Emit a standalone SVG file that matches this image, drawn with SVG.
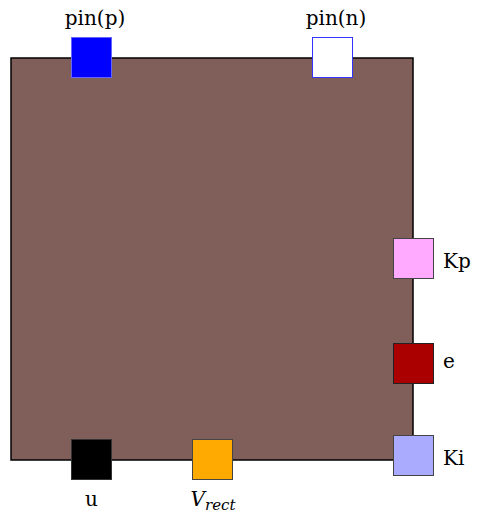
<svg xmlns="http://www.w3.org/2000/svg" width="477" height="521" viewBox="0 0 477 521">
<style>
text{font-family:'DejaVu Serif',serif;font-size:20px;fill:#000}
.port{stroke-width:1}
</style>
<g id="body"><rect x="11" y="58" width="402" height="402" fill="#805E5A" stroke="#000" stroke-width="1.5"/></g>
<g id="pin_p"><rect class="port" x="71.5" y="37.5" width="40" height="40" fill="#0000FF" stroke="#6666FF"/><text x="95" y="25" text-anchor="middle">pin(p)</text></g>
<g id="pin_n"><rect class="port" x="312.5" y="37.5" width="40" height="40" fill="#FFFFFF" stroke="#3333FF"/><text x="336" y="25" text-anchor="middle">pin(n)</text></g>
<g id="Kp"><rect class="port" x="393.5" y="238.5" width="40" height="40" fill="#FFAAFF" stroke="#444"/><text x="443" y="268">Kp</text></g>
<g id="e"><rect class="port" x="393.5" y="343.5" width="40" height="40" fill="#AA0000" stroke="#222"/><text x="443" y="368">e</text></g>
<g id="Ki"><rect class="port" x="393.5" y="435.5" width="40" height="40" fill="#AAAAFF" stroke="#444"/><text x="443" y="465">Ki</text></g>
<g id="u"><rect class="port" x="71.5" y="439.5" width="40" height="40" fill="#000000" stroke="#333"/><text x="91.5" y="506" text-anchor="middle">u</text></g>
<g id="Vrect"><rect class="port" x="192.5" y="439.5" width="40" height="40" fill="#FFAA00" stroke="#444"/><text x="213" y="506" text-anchor="middle"><tspan font-style="italic">V</tspan><tspan font-style="italic" font-size="15" dy="4">rect</tspan></text></g>
<g id="connectors"></g>
</svg>
